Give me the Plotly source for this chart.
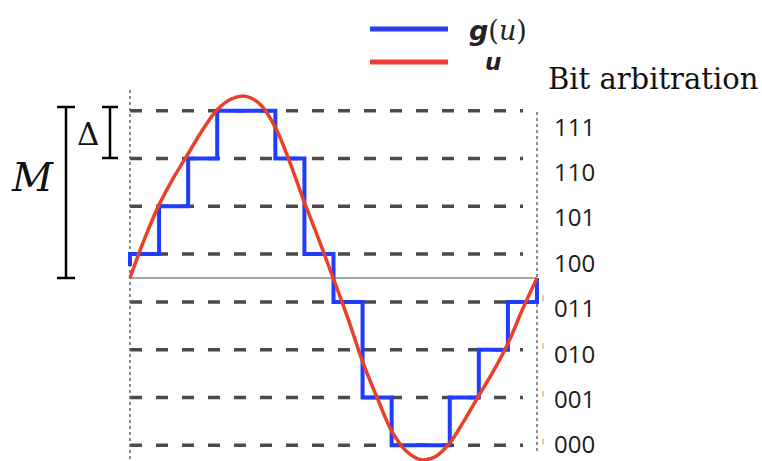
import plotly.graph_objects as go

# ---------------- data ----------------
# sample index along one period (14 quantisation intervals)
step_x = list(range(15))
# quantised output g(u) on each interval (in units of Delta), last value = end point
step_levels = [0.5, 1.5, 2.5, 3.5, 3.5, 2.5, 0.5, -0.5, -2.5, -3.5, -3.5, -2.5, -1.5, -0.5, 0.0]

# continuous input u (units of Delta), every half interval
u_x = [0, 0.5, 1, 1.5, 2, 2.5, 3, 3.5, 4, 4.5, 5, 5.5, 6, 6.5, 7,
       7.5, 8, 8.5, 9, 9.5, 10, 10.5, 11, 11.5, 12, 12.5, 13, 13.5, 14]
u_y = [0.0, 0.82, 1.53, 2.10, 2.60, 3.10, 3.52, 3.75, 3.80, 3.62, 3.15, 2.42, 1.58, 0.80, -0.02,
       -0.85, -1.75, -2.50, -3.20, -3.62, -3.80, -3.74, -3.45, -2.98, -2.46, -1.95, -1.37, -0.66, 0.0]

# quantisation levels and their bit codes
levels = [3.5, 2.5, 1.5, 0.5, -0.5, -1.5, -2.5, -3.5]
codes = ["111", "110", "101", "100", "011", "010", "001", "000"]

# ---------------- pixel <-> data helpers (layout only) ----------------
W, H = 762, 461
X0, SX = 130.0, 29.07   # pixel of x=0, pixels per unit
Y0, SY = 278.0, 47.8    # pixel of y=0, pixels per unit


def dx(px):
    return (px - X0) / SX


def dy(py):
    return (Y0 - py) / SY


BLUE = "#1f3cff"
RED = "#e9402a"

fig = go.Figure()

fig.add_trace(go.Scatter(
    x=[0] + step_x, y=[0.25] + step_levels, mode="lines",
    line=dict(color=BLUE, width=4, shape="hv"),
    showlegend=False, hoverinfo="skip"))

fig.add_trace(go.Scatter(
    x=u_x, y=u_y, mode="lines",
    line=dict(color=RED, width=3.5, shape="spline", smoothing=1.0),
    showlegend=False, hoverinfo="skip"))

shapes = []
# dashed quantisation levels
for lv in levels:
    shapes.append(dict(type="line", xref="x", yref="y", x0=0, x1=dx(523), y0=lv, y1=lv,
                       line=dict(color="#4a4a4a", width=3.5, dash="12px,14px"), layer="below"))
# zero axis
shapes.append(dict(type="line", xref="x", yref="y", x0=0, x1=step_x[-1], y0=0, y1=0,
                   line=dict(color="#8a8a8a", width=1.5), layer="below"))
# dotted borders
shapes.append(dict(type="line", xref="x", yref="y", x0=0, x1=0, y0=dy(90), y1=dy(461),
                   line=dict(color="#666666", width=1.5, dash="dot"), layer="below"))
shapes.append(dict(type="line", xref="x", yref="y", x0=step_x[-1], x1=step_x[-1], y0=dy(112), y1=dy(452),
                   line=dict(color="#666666", width=1.5, dash="dot"), layer="below"))

# M and Delta brackets
for seg in [((66, 107), (66, 278)), ((57, 107), (75, 107)), ((57, 278), (75, 278)),
            ((110, 107), (110, 158)), ((102, 107), (118, 107)), ((102, 158), (118, 158))]:
    (ax, ay), (bx, by) = seg
    shapes.append(dict(type="line", xref="x", yref="y", x0=dx(ax), y0=dy(ay), x1=dx(bx), y1=dy(by),
                       line=dict(color="black", width=2.5)))

# legend line samples
shapes.append(dict(type="line", xref="x", yref="y", x0=dx(370), x1=dx(448), y0=dy(29), y1=dy(29),
                   line=dict(color="#2a3cf0", width=5)))
shapes.append(dict(type="line", xref="x", yref="y", x0=dx(370), x1=dx(448), y0=dy(62), y1=dy(62),
                   line=dict(color="#f03a3a", width=5)))

# small orange artifacts next to lower codes
for lv in levels[4:]:
    shapes.append(dict(type="line", xref="x", yref="y", x0=dx(543), x1=dx(543),
                       y0=lv + 0.02, y1=lv + 0.14, line=dict(color="#f5b46a", width=1.5)))

annotations = []
# bit code labels (evenly spaced column beside the levels)
for i, c in enumerate(codes):
    annotations.append(dict(x=dx(552), y=dy(126 + i * 45.4), xref="x", yref="y", text=c,
                            showarrow=False, xanchor="left", yanchor="middle",
                            font=dict(family="Open Sans", size=24, color="#1a1a1a")))

annotations.append(dict(x=dx(546), y=dy(79), xref="x", yref="y", text="Bit arbitration",
                        showarrow=False, xanchor="left", yanchor="middle",
                        font=dict(family="DejaVu Serif", size=29, color="#111111")))

annotations.append(dict(x=dx(467), y=dy(30), xref="x", yref="y",
                        text="<b><i>g</i></b><span style='font-family:DejaVu Serif'>(<i>u</i>)</span>",
                        showarrow=False, xanchor="left", yanchor="middle",
                        font=dict(family="DejaVu Sans", size=27, color="#222222")))
annotations.append(dict(x=dx(493), y=dy(62), xref="x", yref="y", text="<b><i>u</i></b>",
                        showarrow=False, xanchor="center", yanchor="middle",
                        font=dict(family="DejaVu Sans", size=23, color="#222222")))

annotations.append(dict(x=dx(32), y=dy(177), xref="x", yref="y", text="<i>M</i>",
                        showarrow=False, xanchor="center", yanchor="middle",
                        font=dict(family="DejaVu Serif", size=40, color="#111111")))
annotations.append(dict(x=dx(88), y=dy(134), xref="x", yref="y", text="Δ",
                        showarrow=False, xanchor="center", yanchor="middle",
                        font=dict(family="DejaVu Serif", size=31, color="#111111")))

fig.update_layout(
    width=W, height=H,
    margin=dict(l=0, r=0, t=0, b=0),
    paper_bgcolor="white", plot_bgcolor="white",
    xaxis=dict(range=[dx(0), dx(W)], visible=False, fixedrange=True),
    yaxis=dict(range=[dy(H), dy(0)], visible=False, fixedrange=True),
    shapes=shapes, annotations=annotations,
    showlegend=False,
)

fig.write_html("out.html")
